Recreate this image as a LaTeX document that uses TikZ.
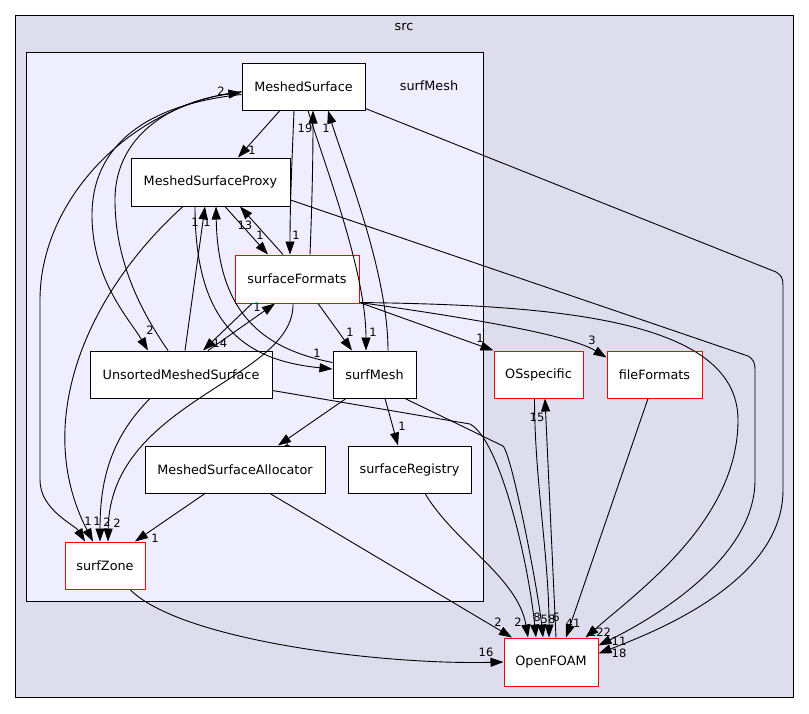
\documentclass[tikz,border=0pt]{standalone}
\usepackage{fontspec}
\setmainfont{DejaVu Sans}
\usepackage{xcolor}
\definecolor{srcBg}{HTML}{DDDDEE}
\definecolor{meshBg}{HTML}{EEEEFF}
\definecolor{dirRed}{HTML}{FF0000}
\usepackage{tikz}
\usetikzlibrary{positioning,calc,arrows.meta}
\tikzset{%
  dirBox/.style={%
    rectangle,
    draw=black,
    fill=white,
    line width=1pt,
    minimum height=47pt,
    inner sep=0pt,
    font=\fontsize{12.8}{15}\selectfont
  },
  redBox/.style={%
    dirBox,
    draw=dirRed
  },
  depLine/.style={%
    -{Triangle[length=13pt,width=9pt]},
    line width=0.9pt,
    color=black
  },
  countLabel/.style={%
    inner sep=0pt,
    font=\fontsize{11.5}{13}\selectfont
  },
  clusterFrame/.style={%
    draw=black,
    line width=1pt
  },
  clusterLabel/.style={%
    inner sep=0pt,
    font=\fontsize{12.8}{15}\selectfont
  }
}

\begin{document}
\begin{tikzpicture}[x=1pt,y=-1pt]
  \useasboundingbox (0,0) rectangle (809,713);
  % clusters
  \draw[clusterFrame, fill=srcBg] (15,15) rectangle (793,697);
  \node[clusterLabel] (srcName) at (404,27) {src};
  \draw[clusterFrame, fill=meshBg] (26,52) rectangle (483,601);
  \node[clusterLabel] (meshName) at (429,86) {surfMesh};

  % directories
  \node[dirBox, minimum width=123pt] (ms) at (303.5,86.5) {MeshedSurface};
  \node[dirBox, minimum width=159pt, minimum height=48pt] (msp) at (210.5,182) {MeshedSurfaceProxy};
  \node[redBox, minimum width=124pt, minimum height=48pt] (sf) at (297,279) {surfaceFormats};
  \node[dirBox, minimum width=182pt] (ums) at (181,374.5) {UnsortedMeshedSurface};
  \node[dirBox, minimum width=83pt] (sm) at (374.5,374.5) {surfMesh};
  \node[dirBox, minimum width=180pt] (msa) at (235,469.5) {MeshedSurfaceAllocator};
  \node[dirBox, minimum width=123pt] (sr) at (409.5,469.5) {surfaceRegistry};
  \node[redBox, minimum width=80pt] (sz) at (105,565.5) {surfZone};
  \node[redBox, minimum width=89pt] (oss) at (538.5,374.5) {OSspecific};
  \node[redBox, minimum width=95pt] (ff) at (654.5,374.5) {fileFormats};
  \node[redBox, minimum width=94pt, minimum height=48pt] (of) at (551,662) {OpenFOAM};

  % inside surfMesh
  \draw[depLine] ($(ms.south)+(-23.5,0)$) -- ($(msp.north)+(27.5,0)$);
  \draw[depLine] ($(ms.south)+(-9.5,0)$) .. controls +(-2,50) and +(0,-50) .. ($(sf.north)+(-7,0)$);
  \draw[depLine] ($(sf.north)+(13,0)$) .. controls +(2,-50) and +(0,50) .. ($(ms.south)+(9.5,0)$);
  \draw[depLine] ($(ms.south)+(4.5,0)$) .. controls +(15,50) and +(0,-80) .. ($(sm.north)+(-8.5,0)$);
  \draw[depLine] ($(sm.north)+(13.5,0)$) .. controls +(0,-80) and +(15,50) .. ($(ms.south)+(24.5,0)$);
  \draw[depLine] ($(ms.west)+(0,8)$) .. controls (140,105) and (92,150) .. (92,215)
    .. controls (92,280) and (130,320) .. ($(ums.north)+(-33,0)$);
  \draw[depLine] ($(ums.north)+(-13,0)$) .. controls (140,310) and (115,260) .. (115,200)
    .. controls (115,130) and (180,100) .. ($(ms.west)+(0,6)$);
  \draw[depLine] ($(ms.west)+(0,5)$) .. controls (130,105) and (40,200) .. (40,300) -- (40,480)
    .. controls (40,510) and (75,525) .. ($(sz.north)+(-20,0)$);
  \draw[depLine] ($(msp.south)+(14.5,0)$) -- ($(sf.north)+(-29,0)$);
  \draw[depLine] ($(sf.north)+(-14,0)$) -- ($(msp.south)+(29.5,0)$);
  \draw[depLine] ($(ums.north)+(4,0)$) -- ($(msp.south)+(-5.5,0)$);
  \draw[depLine] ($(sm.west)+(0,-12)$) .. controls (270,350) and (218,320) .. ($(msp.south)+(5.5,0)$);
  \draw[depLine] ($(msp.south)+(-15.5,0)$) .. controls (195,320) and (240,360) .. ($(sm.west)+(0,-5.5)$);
  \draw[depLine] ($(msp.south)+(-27.5,0)$) .. controls (90,290) and (30,420) .. ($(sz.north)+(-12,0)$);
  \draw[depLine] ($(sf.south)+(-45,0)$) -- ($(ums.north)+(22,0)$);
  \draw[depLine] ($(ums.north)+(27,0)$) -- ($(sf.south)+(-22,0)$);
  \draw[depLine] ($(sf.south)+(21,0)$) -- ($(sm.north)+(-22.5,0)$);
  \draw[depLine] ($(sf.south)+(-4,0)$) .. controls (295,380) and (110,400) .. ($(sz.north)+(3,0)$);
  \draw[depLine] ($(ums.south)+(-31,0)$) .. controls +(-40,40) and +(0,-60) .. ($(sz.north)+(-5,0)$);
  \draw[depLine] ($(sm.south)+(-28.5,0)$) -- ($(msa.north)+(43,0)$);
  \draw[depLine] ($(sm.south)+(10.5,0)$) -- ($(sr.north)+(-11.5,0)$);
  \draw[depLine] ($(msa.south)+(-30,0)$) -- ($(sz.north)+(30,0)$);

  % outgoing
  \draw[depLine] ($(sf.south east)+(0,-1)$) -- (oss.north west);
  \draw[depLine] ($(sf.south east)+(0,-1)$) .. controls (470,318) and (570,335) .. ($(ff.north west)+(0,7)$);
  \draw[depLine] ($(sf.south east)+(0,-1)$) .. controls (560,305) and (738,320) .. (738,420)
    .. controls (738,520) and (640,590) .. ($(of.north east)+(-13,0)$);
  \draw[depLine] ($(msp.east)+(0,18)$) -- (748,356) .. controls (753,359) and (755,362) .. (755,370)
    -- (755,480) .. controls (755,560) and (650,620) .. ($(of.north east)+(0,8)$);
  \draw[depLine] ($(ms.south east)+(0,-2)$) -- (776,272) .. controls (781,275) and (783,278) .. (783,285)
    -- (783,490) .. controls (783,580) and (660,630) .. ($(of.north east)+(0,16)$);
  \draw[depLine] ($(ums.south east)+(0,-8)$) -- (470,424) .. controls (500,440) and (528,560) .. ($(of.north)+(-15,0)$);
  \draw[depLine] ($(sm.south)+(30.5,0)$) -- (503,446) .. controls (512,455) and (538,590) .. ($(of.north)+(-8,0)$);
  \draw[depLine] ($(msa.south)+(35,0)$) -- ($(of.north)+(-39,0)$);
  \draw[depLine] ($(sr.south)+(15.5,0)$) .. controls +(30,50) and +(-10,-60) .. ($(of.north)+(-23,0)$);
  \draw[depLine] ($(sz.south)+(25,0)$) .. controls (180,640) and (380,665) .. (of.west);
  \draw[depLine] ($(oss.south)+(-4,0)$) .. controls +(0,80) and +(0,-80) .. ($(of.north)+(-2,0)$);
  \draw[depLine] ($(of.north)+(5,0)$) -- ($(oss.south)+(6.5,0)$);
  \draw[depLine] ($(ff.south)+(-6.5,0)$) -- ($(of.north)+(15,0)$);

  % counts
  \node[countLabel] (cUmsMs) at (221,91) {2};
  \node[countLabel] (cMsMsp) at (252,150) {1};
  \node[countLabel] (cSfMs) at (305,128) {19};
  \node[countLabel] (cSmMs) at (326,128) {1};
  \node[countLabel] (cUmsMsp) at (195,222) {1};
  \node[countLabel] (cSmMsp) at (207,222) {1};
  \node[countLabel] (cSfMsp) at (245,225) {13};
  \node[countLabel] (cMspSf) at (260,235) {1};
  \node[countLabel] (cMsSf) at (296,235) {1};
  \node[countLabel] (cMsUms) at (150,330) {2};
  \node[countLabel] (cSfUms) at (220,343) {14};
  \node[countLabel] (cUmsSf) at (257,307) {1};
  \node[countLabel] (cSfSm) at (350,332) {1};
  \node[countLabel] (cMsSm) at (373,332) {1};
  \node[countLabel] (cMspSm) at (317,353) {1};
  \node[countLabel] (cSfOss) at (480,338) {1};
  \node[countLabel] (cSfFf) at (592,340) {3};
  \node[countLabel] (cSmMsa) at (287,442) {1};
  \node[countLabel] (cSmSr) at (402,426) {1};
  \node[countLabel] (cMsaSz) at (155,538) {1};
  \node[countLabel] (cMsSz) at (88,521) {1};
  \node[countLabel] (cMspSz) at (97,521) {1};
  \node[countLabel] (cUmsSz) at (107,522) {2};
  \node[countLabel] (cSfSz) at (117,523) {2};
  \node[countLabel] (cOfOss) at (537,417) {15};
  \node[countLabel] (cSzOf) at (486,652) {16};
  \node[countLabel] (cMsaOf) at (498,622) {2};
  \node[countLabel] (cSrOf) at (518,622) {2};
  \node[countLabel] (cUmsOf) at (537,617) {8};
  \node[countLabel] (cSmOf) at (548,619) {58};
  \node[countLabel] (cOssOf) at (556,617) {6};
  \node[countLabel] (cFfOf) at (573,623) {41};
  \node[countLabel] (cSfOf) at (600,632) {122};
  \node[countLabel] (cMspOf) at (619,641) {11};
  \node[countLabel] (cMsOf) at (619,653) {18};
\end{tikzpicture}
\end{document}
